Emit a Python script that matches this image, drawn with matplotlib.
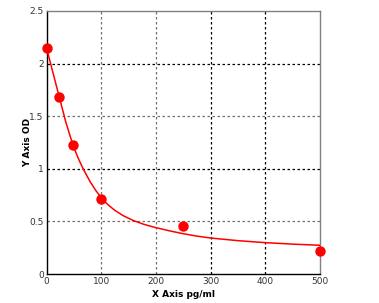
import matplotlib
matplotlib.use("Agg")
import matplotlib.pyplot as plt

# standards
conc = [0, 23, 48, 99, 249, 500]
od = [2.15, 1.685, 1.226, 0.713, 0.456, 0.22]

# fitted curve
curve_x = [0, 10, 23, 35, 48, 58, 67, 80, 90, 100, 112, 125, 140, 158, 178, 199,
           225, 250, 275, 300, 350, 400, 450, 500]
curve_y = [2.15, 1.95, 1.69, 1.45, 1.23, 1.10, 1.0, 0.875, 0.795, 0.725, 0.66, 0.605,
           0.555, 0.51, 0.472, 0.442, 0.41, 0.383, 0.36, 0.342, 0.317, 0.298, 0.284, 0.273]

xticks = [0, 100, 200, 300, 400, 500]
yticks = [0, 0.5, 1, 1.5, 2, 2.5]
ytick_labels = ["0", "0.5", "1", "1.5", "2", "2.5"]

fig = plt.figure(figsize=(3.79, 3.03), dpi=100)
ax = fig.add_axes([46.5 / 379, 1 - 274 / 303, (320 - 46.5) / 379, (274 - 11) / 303])

ax.set_xlim(0, 500)
ax.set_ylim(0, 2.5)

# grid: some lines come out darker than others in the original
for gx, c in zip([100, 200, 300, 400], ["#707070", "#707070", "black", "black"]):
    ax.axvline(gx, color=c, lw=0.9, ls=(0, (2, 2)), zorder=1)
for gy, c in zip([0.5, 1, 1.5, 2], ["#707070", "black", "#707070", "black"]):
    ax.axhline(gy, color=c, lw=0.9, ls=(0, (2, 2)), zorder=1)

ax.plot(curve_x, curve_y, color="red", lw=1.1, zorder=3)
ax.plot(conc, od, "o", color="red", ms=7.5, mew=0, zorder=4, clip_on=False)

ax.set_xticks(xticks)
ax.set_xticklabels([str(t) for t in xticks])
ax.set_yticks(yticks)
ax.set_yticklabels(ytick_labels)
ax.tick_params(length=0, labelsize=6.5, labelcolor="#333333", pad=2)

ax.spines["left"].set_color("black")
ax.spines["bottom"].set_color("black")
ax.spines["top"].set_color("#808080")
ax.spines["right"].set_color("#808080")
for s in ax.spines.values():
    s.set_linewidth(1)

ax.set_xlabel("X Axis pg/ml", fontsize=6.5, fontweight="bold", labelpad=3)
ax.set_ylabel("Y Axis OD", fontsize=6.5, fontweight="bold", labelpad=-2)

fig.savefig("out.png", dpi=100)
